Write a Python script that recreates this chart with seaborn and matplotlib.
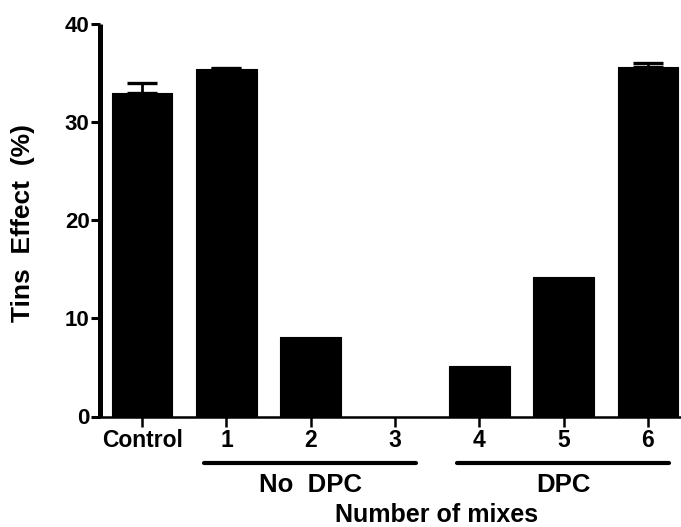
import matplotlib
matplotlib.use("Agg")
import matplotlib.pyplot as plt
import matplotlib.transforms as mtransforms
import numpy as np
import pandas as pd
import seaborn as sns

# Tins effect by number of mixes
categories = ["Control", "1", "2", "3", "4", "5", "6"]
tins_effect = [33.0, 35.4, 8.1, 0.0, 5.1, 14.2, 35.6]
sem = [0.95, 0.15, 0.0, 0.0, 0.0, 0.0, 0.4]
y_ticks = [0, 10, 20, 30, 40]

# Treatment groups shown beneath the axis: (label, first category, last category)
groups = [("No  DPC", "1", "3"), ("DPC", "4", "6")]

df = pd.DataFrame({"mix": categories, "effect": tins_effect, "sem": sem})

sns.set_style("ticks")
plt.rcParams["font.family"] = ["Liberation Sans", "DejaVu Sans"]
plt.rcParams["font.weight"] = "bold"
for key in ["text.color", "axes.edgecolor", "axes.labelcolor",
            "xtick.color", "ytick.color"]:
    plt.rcParams[key] = "black"

fig = plt.figure(figsize=(6.81, 5.27), dpi=100)
ax = fig.add_axes([100 / 681, 110.5 / 527, 590 / 681, 392.5 / 527])

sns.barplot(data=df, x="mix", y="effect", order=categories, color="black",
            width=0.72, errorbar=None, ax=ax, saturation=1,
            edgecolor="black", linewidth=0.8)
for patch in ax.patches:
    patch.set_joinstyle("round")

# upward-only error bars, drawn where an error exists
pos = np.arange(len(categories))
vals = np.asarray(tins_effect)
errs = np.asarray(sem)
mask = errs > 0
ax.errorbar(pos[mask], vals[mask], yerr=[np.zeros(mask.sum()), errs[mask]],
            fmt="none", ecolor="black", elinewidth=2.0, capsize=11,
            capthick=2.4, zorder=1)

ax.set_xlim(-0.5, 6.5)
ax.set_ylim(0, 40)
ax.set_yticks(y_ticks)
ax.set_yticklabels([str(t) for t in y_ticks], fontsize=16, fontweight="bold")
ax.set_xticks(pos)
ax.set_xticklabels(categories, fontsize=16.5, fontweight="bold")

sns.despine(ax=ax)
ax.spines["left"].set_linewidth(3.6)
ax.spines["bottom"].set_linewidth(1.8)
ax.spines["left"].set_capstyle("butt")
ax.tick_params(axis="y", length=6.5, width=2.2, pad=1)
ax.tick_params(axis="x", length=7.5, width=1.8, pad=1.5)
for t in ax.xaxis.get_ticklines() + ax.yaxis.get_ticklines():
    t.set_solid_capstyle("round")

ax.set_ylabel("Tins  Effect  (%)", fontsize=19, fontweight="bold")
ax.yaxis.label.set_va("center")
ax.yaxis.set_label_coords((23 - 100) / 590, 0.494)
ax.set_xlabel("Number of mixes", fontsize=18, fontweight="bold")
ax.xaxis.label.set_va("baseline")
ax.xaxis.set_label_coords(0.571, (416.5 - 522) / 392.5)

# group brackets and their labels below the tick labels
trans = mtransforms.blended_transform_factory(ax.transData, fig.transFigure)
for label, first, last in groups:
    i0, i1 = categories.index(first), categories.index(last)
    ax.plot([i0 - 0.27, i1 + 0.25], [1 - 462.7 / 527] * 2, color="black",
            lw=3.0, solid_capstyle="round", transform=trans, clip_on=False)
    ax.text((i0 + i1) / 2, 1 - 492 / 527, label, transform=trans,
            ha="center", va="baseline", fontsize=18.5, fontweight="bold")

fig.savefig("out.png", dpi=100)
